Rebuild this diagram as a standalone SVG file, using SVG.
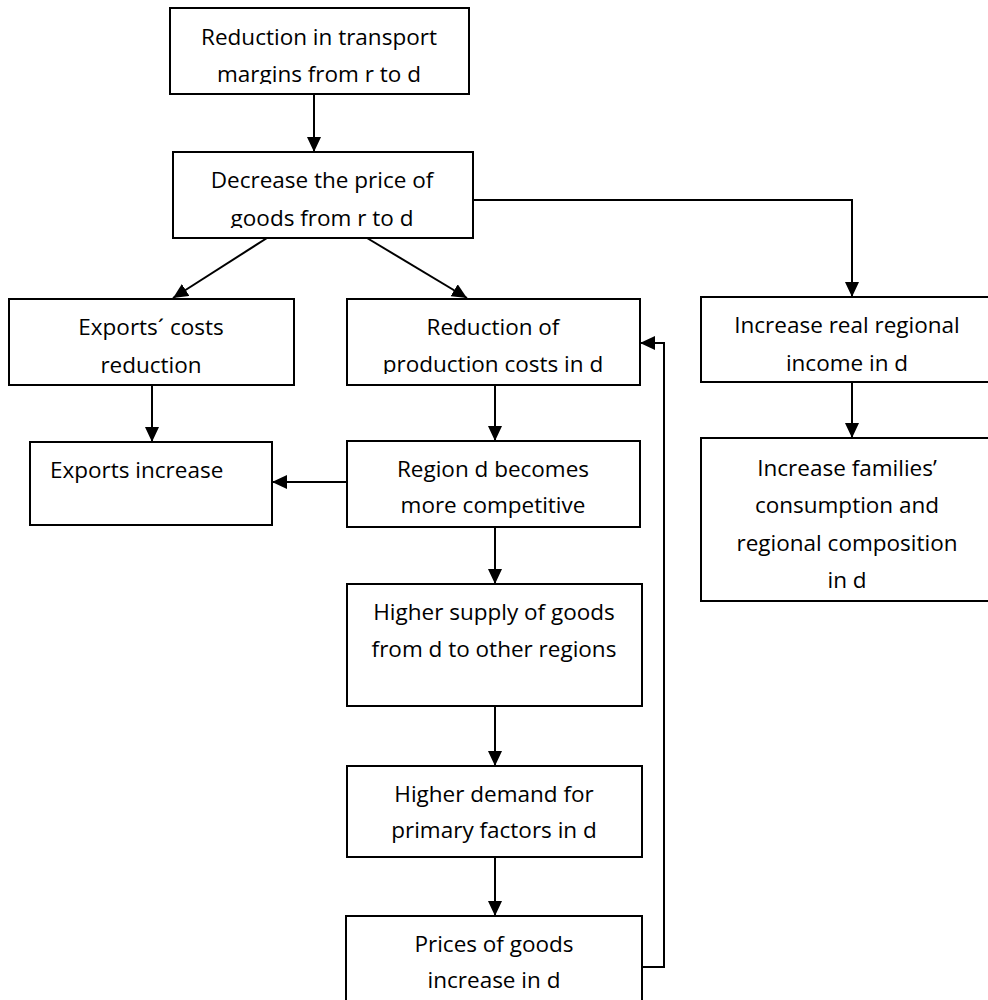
<svg xmlns="http://www.w3.org/2000/svg" width="988" height="1000" viewBox="0 0 988 1000">
<style>
.box{fill:#fff;stroke:#000;stroke-width:2}
.t{font-family:"Open Sans","Liberation Sans",sans-serif;font-size:22.5px;fill:#000;text-anchor:middle}
.c{fill:none;stroke:#000;stroke-width:2}
</style>
<defs>
<marker id="a" viewBox="0 0 15 14" refX="15" refY="7" markerWidth="15" markerHeight="14" markerUnits="userSpaceOnUse" orient="auto">
<path d="M0,0 L15,7 L0,14 Z" fill="#000"/>
</marker>
<clipPath id="c1"><rect x="170" y="8" width="300" height="76"/></clipPath>
<clipPath id="c2"><rect x="173" y="152" width="300" height="76"/></clipPath>
<clipPath id="c3"><rect x="347" y="299" width="293" height="75"/></clipPath>
</defs>
<g id="connectors">
<line class="c" x1="314" y1="94" x2="314" y2="152" marker-end="url(#a)"/>
<line class="c" x1="267" y1="238" x2="173" y2="298" marker-end="url(#a)"/>
<line class="c" x1="367" y1="238" x2="467" y2="298" marker-end="url(#a)"/>
<polyline class="c" points="473,200 852,200 852,297" marker-end="url(#a)"/>
<line class="c" x1="152" y1="385" x2="152" y2="442" marker-end="url(#a)"/>
<line class="c" x1="495" y1="385" x2="495" y2="441" marker-end="url(#a)"/>
<line class="c" x1="347" y1="482" x2="272" y2="482" marker-end="url(#a)"/>
<line class="c" x1="852" y1="382" x2="852" y2="438" marker-end="url(#a)"/>
<line class="c" x1="495" y1="527" x2="495" y2="584" marker-end="url(#a)"/>
<line class="c" x1="495" y1="706" x2="495" y2="766" marker-end="url(#a)"/>
<line class="c" x1="495" y1="857" x2="495" y2="916" marker-end="url(#a)"/>
<polyline class="c" points="642,967 664,967 664,343 640,343" marker-end="url(#a)"/>
</g>
<g id="n1">
<rect class="box" x="170" y="8" width="299" height="86"/>
<g clip-path="url(#c1)">
<text class="t" x="319" y="45">Reduction in transport</text>
<text class="t" x="319" y="82">margins from r to d</text>
</g>
</g>
<g id="n2">
<rect class="box" x="173" y="152" width="300" height="86"/>
<g clip-path="url(#c2)">
<text class="t" x="322" y="188">Decrease the price of</text>
<text class="t" x="322" y="226">goods from r to d</text>
</g>
</g>
<g id="n3">
<rect class="box" x="9" y="299" width="285" height="86"/>
<text class="t" x="151" y="335">Exports´ costs</text>
<text class="t" x="151" y="373">reduction</text>
</g>
<g id="n4">
<rect class="box" x="347" y="299" width="293" height="86"/>
<g clip-path="url(#c3)">
<text class="t" x="493" y="335">Reduction of</text>
<text class="t" x="493" y="372">production costs in d</text>
</g>
</g>
<g id="n5">
<rect class="box" x="701" y="297" width="300" height="85"/>
<text class="t" x="847" y="333">Increase real regional</text>
<text class="t" x="847" y="371">income in d</text>
</g>
<g id="n6">
<rect class="box" x="30" y="442" width="242" height="83"/>
<text class="t" x="50" y="478" style="text-anchor:start">Exports increase</text>
</g>
<g id="n7">
<rect class="box" x="347" y="441" width="293" height="86"/>
<text class="t" x="493" y="477">Region d becomes</text>
<text class="t" x="493" y="513">more competitive</text>
</g>
<g id="n8">
<rect class="box" x="701" y="438" width="300" height="163"/>
<text class="t" x="847" y="476">Increase families’</text>
<text class="t" x="847" y="513">consumption and</text>
<text class="t" x="847" y="551">regional composition</text>
<text class="t" x="847" y="588">in d</text>
</g>
<g id="n9">
<rect class="box" x="347" y="584" width="295" height="122"/>
<text class="t" x="494" y="620">Higher supply of goods</text>
<text class="t" x="494" y="657">from d to other regions</text>
</g>
<g id="n10">
<rect class="box" x="347" y="766" width="295" height="91"/>
<text class="t" x="494" y="802">Higher demand for</text>
<text class="t" x="494" y="838">primary factors in d</text>
</g>
<g id="n11">
<rect class="box" x="346" y="916" width="296" height="100"/>
<text class="t" x="494" y="952">Prices of goods</text>
<text class="t" x="494" y="988">increase in d</text>
</g>
</svg>
